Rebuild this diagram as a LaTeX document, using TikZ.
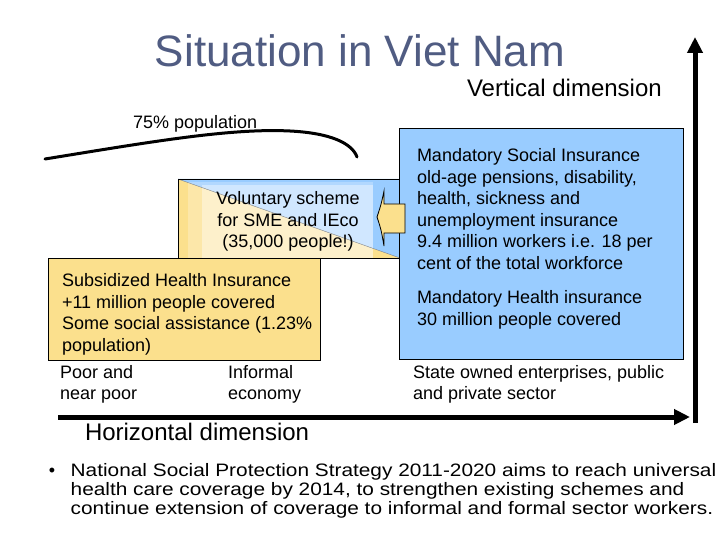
\documentclass[tikz,border=0pt]{standalone}
\usepackage{fontspec}
\setmainfont{Liberation Sans}
\usepackage{tikz}
\usetikzlibrary{arrows.meta,positioning}
\definecolor{vnblue}{RGB}{153,204,255}
\definecolor{vnyellow}{RGB}{251,224,141}
\definecolor{vnpaleblue}{RGB}{208,230,252}
\definecolor{vnpaleyellow}{RGB}{255,243,206}
\definecolor{vntitle}{RGB}{80,92,130}

\begin{document}
\begin{tikzpicture}[
        x=1pt, y=-1pt,
        every node/.style={inner sep=0pt, outer sep=0pt},
        txt/.style={font=\fontsize{18}{21.6}\selectfont, align=left},
        big/.style={font=\fontsize{24}{28}\selectfont},
        wide/.style={font=\fontsize{18}{19}\selectfont\addfontfeatures{FakeStretch=1.157}},
        panel/.style={rectangle, draw, line width=0.8pt, anchor=north west},
        axis/.style={line width=5pt, -{Triangle[length=16pt,width=15pt]}}
    ]
        \useasboundingbox (0,0) rectangle (720,540);

        \node[anchor=base, font=\fontsize{44}{50}\selectfont, text=vntitle] (title) at (360,67) {Situation in Viet Nam};
        \node[big, anchor=base west] (vertlabel) at (467,97) {Vertical dimension};
        \node[txt, anchor=base west] (popshare) at (133,128.5) {75\% population};

        \draw[line width=3pt, line cap=round] (45,159) .. controls (150,142) and (230,128) .. (290,131) .. controls (330,133) and (352,143) .. (357,157);

        \coordinate (volnw) at (178,179);
        \coordinate (volse) at (400,258);
        \fill[vnyellow] (volnw) -- (volse) -- (volnw |- volse) -- cycle;
        \fill[vnblue] (volnw) -- (volse |- volnw) -- (volse) -- cycle;
        \fill[white, opacity=0.25] (188,182) rectangle (373,258);
        \fill[white, opacity=0.4] (202,185) rectangle (373,258);
        \draw[gray, thin] (volnw) -- (volse);
        \draw[line width=0.8pt] (volse |- volnw) -- (volnw) -- (volnw |- volse) -- (volse);
        \node[txt, align=center, anchor=north] (volscheme) at (288,191.5) {Voluntary scheme\\for SME and IEco\\(35,000 people!)};

        \node[panel, fill=vnyellow, minimum width=272, minimum height=102] (subbox) at (48,258) {};
        \node[txt, anchor=north west] (subtext) at (62,273.4) {Subsidized Health Insurance\\+11 million people covered\\Some social assistance (1.23\%\\population)};

        \node[panel, fill=vnblue, minimum width=284, minimum height=231] (mandbox) at (399,128) {};
        \node[txt, anchor=north west] (mandtext) at (417,148.4) {Mandatory Social Insurance\\old-age pensions, disability,\\health, sickness and\\unemployment insurance\\9.4 million workers i.e. 18 per\\cent of the total workforce\\[12.4pt]Mandatory Health insurance\\30 million people covered};

        \draw[line width=0.8pt, fill=vnyellow] (405,204) -- (384,204) -- (384,191) .. controls (381,205) .. (377,217) .. controls (381,229) .. (384,246) -- (384,233) -- (405,233) -- cycle;

        \node[txt, anchor=north west] (poor) at (60,365) {Poor and\\near poor};
        \node[txt, anchor=north west] (informal) at (228,365) {Informal\\economy};
        \node[txt, anchor=north west] (formal) at (413,365) {State owned enterprises, public\\and private sector};

        \coordinate (horig) at (58,417);
        \coordinate (hend) at (690,417);
        \coordinate (vorig) at (695,423);
        \coordinate (vend) at (695,37);
        \draw[axis] (horig) -- (hend);
        \draw[axis] (vorig) -- (vend);

        \node[big, anchor=base west] (horizlabel) at (85,440.6) {Horizontal dimension};

        \node[font=\fontsize{18}{19}\selectfont, anchor=base] (bullet) at (52,476.5) {•};
        \node[wide, align=left, anchor=north west] (strategy) at (70.7,463.5) {National Social Protection Strategy 2011-2020 aims to reach universal\\health care coverage by 2014, to strengthen existing schemes and\\continue extension of coverage to informal and formal sector workers.};
    \end{tikzpicture}
\end{document}
